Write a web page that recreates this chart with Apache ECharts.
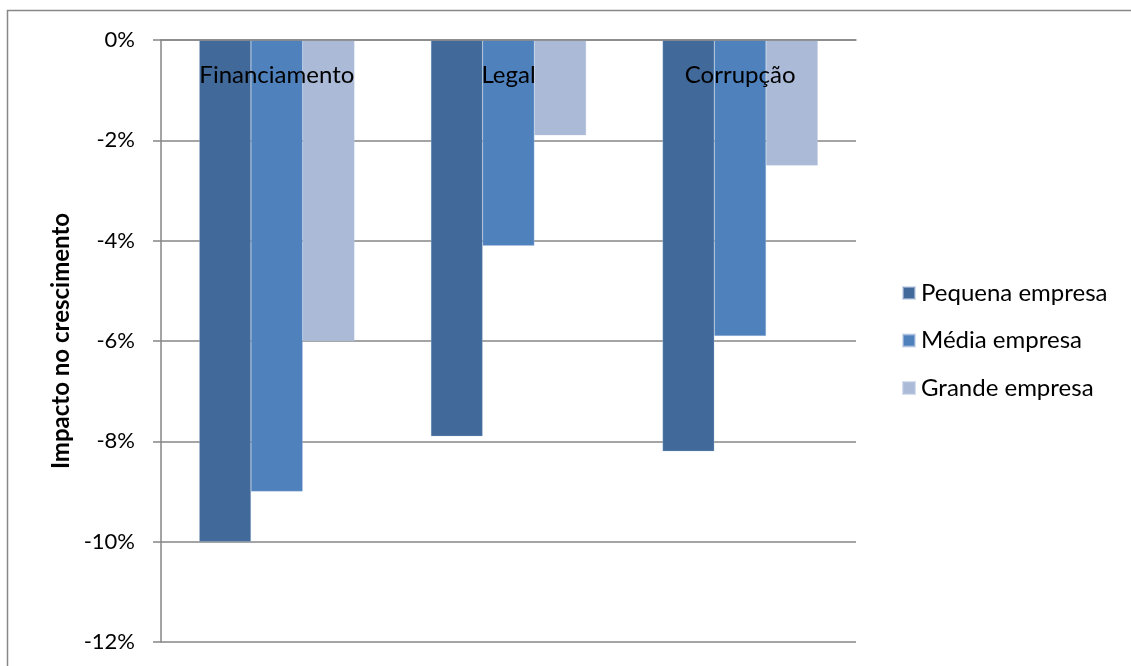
<!DOCTYPE html>
<html><head><meta charset="utf-8">
<script src="https://cdn.jsdelivr.net/npm/echarts@6/dist/echarts.min.js"></script>
<style>html,body{margin:0;padding:0;background:#fff}#c{width:1131px;height:666px}</style>
</head><body><div id="c"></div>
<script>
const categories = ['Financiamento', 'Legal', 'Corrupção'];
const seriesNames = ['Pequena empresa', 'Média empresa', 'Grande empresa'];
const pequena = [-10, -7.9, -8.2];
const media = [-9, -4.1, -5.9];
const grande = [-6, -1.9, -2.5];
const yTicks = [0, -2, -4, -6, -8, -10, -12];
const colors = ['#41699A', '#4F81BD', '#AABAD7'];
const FONT = 'Lato';

const chart = echarts.init(document.getElementById('c'));
const values = [pequena, media, grande];
chart.setOption({
  animation: false,
  color: colors,
  graphic: [{
    type: 'rect', shape: {x: 7.5, y: 10.5, width: 1200, height: 700},
    style: {fill: 'none', stroke: '#888', lineWidth: 1.5}, silent: true, z: -1
  }],
  grid: {left: 161, right: 275, top: 40, bottom: 24},
  legend: {
    orient: 'vertical', left: 897, top: 276, itemGap: 23.5,
    itemWidth: 12, itemHeight: 12, icon: 'rect',
    textStyle: {fontFamily: FONT, fontSize: 24, color: '#000', padding: [0,0,0,1]},
    data: seriesNames
  },
  xAxis: {
    type: 'category', position: 'top', data: categories,
    axisLine: {lineStyle: {color: '#868686', width: 1.5}},
    axisTick: {inside: true, length: 7, lineStyle: {color: '#868686', width: 1.5}},
    axisLabel: {inside: true, margin: 35, color: '#000', fontFamily: FONT, fontSize: 24, verticalAlign: 'middle'},
    z: 10
  },
  yAxis: {
    type: 'value', min: -12, max: 0, interval: 2,
    name: 'Impacto no crescimento', nameLocation: 'middle', nameGap: 88, nameRotate: 90,
    nameTextStyle: {fontFamily: FONT, fontSize: 24, fontWeight: 'bold', color: '#000'},
    axisLine: {show: true, lineStyle: {color: '#868686', width: 1.5}},
    axisTick: {show: true, length: 8, lineStyle: {color: '#868686', width: 1.5}},
    axisLabel: {margin: 26, color: '#000', fontFamily: FONT, fontSize: 22,
      formatter: v => yTicks.includes(v) ? v + '%' : ''},
    splitLine: {lineStyle: {color: '#868686', width: 1.5}}
  },
  series: seriesNames.map((n, i) => ({
    name: n, type: 'bar', data: values[i],
    barGap: '0%', barCategoryGap: '33%',
    itemStyle: {color: colors[i], borderColor: 'rgba(185,200,225,0.6)', borderWidth: 0.5}
  }))
});
</script></body></html>
